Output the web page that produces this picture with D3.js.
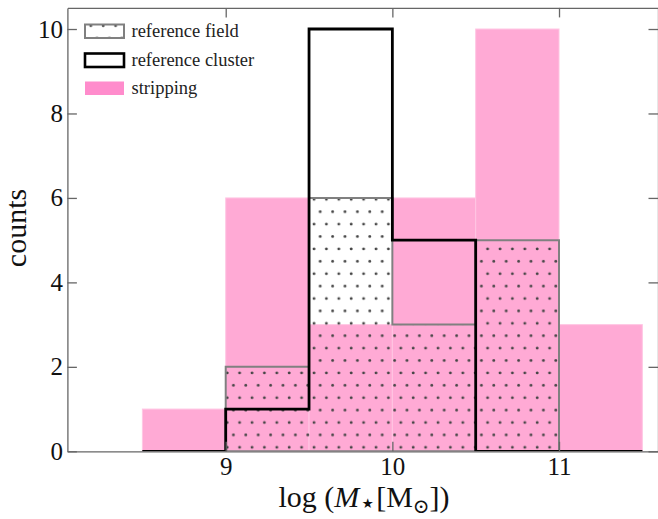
<!DOCTYPE html>
<html>
<head>
<meta charset="utf-8">
<script src="https://cdn.jsdelivr.net/npm/d3@7"></script>
<style>
  html, body { margin: 0; padding: 0; background: #fff; }
  svg { display: block; }
  .serif { font-family: "Liberation Serif", "DejaVu Serif", serif; }
</style>
</head>
<body>
<svg id="chart" width="658" height="519"></svg>
<script>
// ---- data ----
const binEdges = [8.5, 9, 9.5, 10, 10.5, 11, 11.5];
const strippingCounts = [1, 6, 3, 6, 10, 3];
const fieldCounts = [0, 2, 6, 3, 5, 0];
const clusterCounts = [0, 1, 10, 5, 0, 0];
const xTickValues = [9, 10, 11];
const yTickValues = [0, 2, 4, 6, 8, 10];
const legendLabels = ["reference field", "reference cluster", "stripping"];
const xLabelParts = ["log (", "M", "⋆", "[M", "⊙", "])"];
const yLabelText = "counts";

// ---- layout ----
const pL = 67.4, pR = 659, pT = 7.9, pB = 451.3;
const svg = d3.select("#chart");

const x = d3.scaleLinear().domain([8.05, 11.6]).range([pL, pR]);
const y = d3.scaleLinear().domain([0, 10.5]).range([pB, pT]);

const defs = svg.append("defs");
const pat = defs.append("pattern")
  .attr("id", "dots")
  .attr("patternUnits", "userSpaceOnUse")
  .attr("width", 12.4).attr("height", 24.8);
[[4.0, 0.9], [4.0, 25.7], [10.2, 13.3], [-2.2, 13.3]].forEach(([cx, cy]) => {
  pat.append("circle").attr("cx", cx).attr("cy", cy).attr("r", 1.4).attr("fill", "#454545");
});

const clip = defs.append("clipPath").attr("id", "plotclip");
clip.append("rect").attr("x", pL).attr("y", pT).attr("width", pR - pL).attr("height", pB - pT);

const plot = svg.append("g").attr("clip-path", "url(#plotclip)");

// stripping bars
const stripData = strippingCounts.map((c, i) => ({ x0: binEdges[i], x1: binEdges[i + 1], c }));
plot.selectAll("rect.strip").data(stripData).enter().append("rect")
  .attr("class", "strip")
  .attr("x", d => x(d.x0))
  .attr("width", d => x(d.x1) - x(d.x0))
  .attr("y", d => y(d.c))
  .attr("height", d => y(0) - y(d.c))
  .attr("fill", "#ffaad5")
  .attr("stroke", "#ffc6e3")
  .attr("stroke-width", 1);

function stepPoints(counts) {
  const pts = [[binEdges[0], 0]];
  counts.forEach((c, i) => {
    pts.push([binEdges[i], c]);
    pts.push([binEdges[i + 1], c]);
  });
  pts.push([binEdges[binEdges.length - 1], 0]);
  return pts;
}
const line = d3.line().x(d => x(d[0])).y(d => y(d[1]));

// field (hatched stepfilled)
plot.append("path")
  .attr("d", line(stepPoints(fieldCounts)) + "Z")
  .attr("fill", "url(#dots)")
  .attr("stroke", "#808080")
  .attr("stroke-width", 2)
  .attr("stroke-linejoin", "miter");

// cluster (step)
plot.append("path")
  .attr("d", line(stepPoints(clusterCounts)))
  .attr("fill", "none")
  .attr("stroke", "#000")
  .attr("stroke-width", 2.8)
  .attr("stroke-linejoin", "miter");

// ---- axes ----
const axisColor = "#666";
const tickLen = 9.5;
function styleAxis(g, showLabels) {
  g.select(".domain").attr("stroke", axisColor).attr("stroke-width", 1.3);
  g.selectAll(".tick line").attr("stroke", axisColor).attr("stroke-width", 1.3);
  g.selectAll(".tick text")
    .attr("fill", "#111")
    .style("font-size", "25px")
    .style("font-family", '"Liberation Serif", "DejaVu Serif", serif');
  if (!showLabels) g.selectAll(".tick text").remove();
}

svg.append("g").attr("transform", `translate(0,${pB})`)
  .call(d3.axisBottom(x).tickValues(xTickValues).tickFormat(d3.format("d"))
    .tickSizeInner(-tickLen).tickSizeOuter(0).tickPadding(5.5))
  .call(g => styleAxis(g, true));
svg.append("g").attr("transform", `translate(0,${pT})`)
  .call(d3.axisTop(x).tickValues(xTickValues).tickSizeInner(-tickLen).tickSizeOuter(0))
  .call(g => styleAxis(g, false));
svg.append("g").attr("transform", `translate(${pL},0)`)
  .call(d3.axisLeft(y).tickValues(yTickValues).tickFormat(d3.format("d"))
    .tickSizeInner(-tickLen).tickSizeOuter(0).tickPadding(4.5))
  .call(g => styleAxis(g, true));
svg.append("g").attr("transform", `translate(${pR - 1},0)`)
  .call(d3.axisRight(y).tickValues(yTickValues).tickSizeInner(-tickLen).tickSizeOuter(0))
  .call(g => styleAxis(g, false));

// ---- axis labels ----
const xl = svg.append("text").attr("class", "serif")
  .attr("x", 364).attr("y", 507)
  .attr("text-anchor", "middle")
  .attr("fill", "#111")
  .style("font-size", "30px");
xl.append("tspan").text(xLabelParts[0]);
xl.append("tspan").style("font-style", "italic").text(xLabelParts[1]);
xl.append("tspan").attr("dy", 5).style("font-size", "27px").style("font-family", '"DejaVu Sans", sans-serif').text(xLabelParts[2]);
xl.append("tspan").attr("dy", -5).attr("dx", 0).text(xLabelParts[3]);
xl.append("tspan").attr("dy", 6).style("font-size", "20px").style("font-family", '"DejaVu Serif", serif').text(xLabelParts[4]);
xl.append("tspan").attr("dy", -6).text(xLabelParts[5]);

svg.append("text").attr("class", "serif")
  .attr("transform", "translate(26,228) rotate(-90)")
  .attr("text-anchor", "middle")
  .attr("fill", "#111")
  .style("font-size", "30px")
  .text(yLabelText);

// ---- legend ----
const legX = 85, legW = 39, legH = 13.5;
const legY = [24.5, 53.5, 81.5];
const lg = svg.append("g");
lg.append("rect").attr("x", legX).attr("y", legY[0]).attr("width", legW).attr("height", legH)
  .attr("fill", "url(#dots)").attr("stroke", "#808080").attr("stroke-width", 2);
lg.append("rect").attr("x", legX).attr("y", legY[1]).attr("width", legW).attr("height", legH)
  .attr("fill", "#fff").attr("stroke", "#000").attr("stroke-width", 2.6);
lg.append("rect").attr("x", legX).attr("y", legY[2]).attr("width", legW).attr("height", legH)
  .attr("fill", "#ff8ccc");
lg.selectAll("text.leg").data(legendLabels).enter().append("text")
  .attr("class", "serif leg")
  .attr("x", 131.5)
  .attr("y", (d, i) => legY[i] + legH / 2 + 6)
  .attr("fill", "#222")
  .style("font-size", "18.5px")
  .text(d => d);
</script>
</body>
</html>
